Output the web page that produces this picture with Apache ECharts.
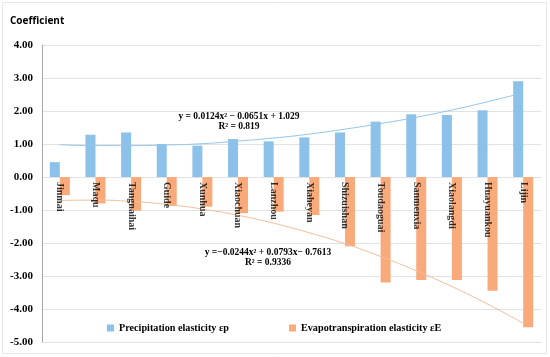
<!DOCTYPE html>
<html>
<head>
<meta charset="utf-8">
<script src="https://cdn.jsdelivr.net/npm/echarts@6/dist/echarts.min.js"></script>
<style>
html,body{margin:0;padding:0;background:#fff;}
#chart{width:550px;height:357px;}
</style>
</head>
<body>
<div id="chart"></div>
<script>
// Data
const categories = ["Jinmai","Maqu","Tangnaihai","Guide","Xunhua","Xiaochuan","Lanzhou","Xiaheyan","Shizuishan","Toudaoguai","Sanmenxia","Xiaolangdi","Huayuankou","Lijin"];
const precipitation = [0.45, 1.28, 1.35, 1.00, 0.95, 1.15, 1.08, 1.20, 1.35, 1.68, 1.90, 1.88, 2.02, 2.90];
const evapotranspiration = [-0.55, -0.80, -1.02, -0.88, -0.90, -1.10, -1.05, -1.15, -2.10, -3.20, -3.12, -3.12, -3.45, -4.55];
// Trend-line values
const precipTrend = [0.98, 0.95, 0.95, 0.97, 1.01, 1.09, 1.18, 1.30, 1.45, 1.62, 1.81, 2.03, 2.28, 2.55];
const evapTrend = [-0.71, -0.70, -0.74, -0.83, -0.97, -1.16, -1.40, -1.69, -2.02, -2.41, -2.84, -3.32, -3.85, -4.43];
const yTicks = {min: -5, max: 4, interval: 1};
const seriesNames = ["Precipitation elasticity εp", "Evapotranspiration elasticity εE"];
const eqPrecip = ["y = 0.0124x² − 0.0651x + 1.029", "R² = 0.819"];
const eqEvap = ["y =−0.0244x² + 0.0793x− 0.7613", "R² = 0.9336"];

const serif = "Liberation Serif";
const blue = "#8CC1E9";
const orange = "#F9AA7B";

const chart = echarts.init(document.getElementById('chart'), null, {renderer: 'canvas'});
chart.setOption({
  animation: false,
  backgroundColor: '#fff',
  grid: {left: 42, right: 9, top: 45, bottom: 15, containLabel: false, outerBoundsMode: 'none'},
  legend: {
    data: seriesNames,
    left: 102, top: 318,
    itemWidth: 7, itemHeight: 7, itemGap: 60,
    icon: 'rect',
    textStyle: {fontFamily: serif, fontWeight: 'bold', fontSize: 10.2, color: '#000'}
  },
  xAxis: {
    type: 'category',
    data: categories,
    axisLine: {show: false},
    axisTick: {show: false},
    axisLabel: {show: false}
  },
  yAxis: {
    type: 'value',
    min: yTicks.min, max: yTicks.max, interval: yTicks.interval,
    axisLine: {show: true, lineStyle: {color: '#A6A6A6', width: 1}},
    axisTick: {show: false},
    splitLine: {lineStyle: {color: '#E2E2E2'}},
    axisLabel: {formatter: v => v.toFixed(2), fontFamily: serif, fontWeight: 'bold', fontSize: 11, color: '#000', margin: 9}
  },
  series: [
    {name: seriesNames[0], type: 'bar', data: precipitation, barWidth: 10, barGap: '0%', itemStyle: {color: blue}},
    {name: seriesNames[1], type: 'bar', data: evapotranspiration, barWidth: 10, barGap: '0%', itemStyle: {color: orange}},
    {name: 'precipTrend', type: 'line', data: precipTrend, smooth: true, symbol: 'none', lineStyle: {color: '#94C5E8', width: 1}, z: 5},
    {name: 'evapTrend', type: 'line', data: evapTrend, smooth: true, symbol: 'none', lineStyle: {color: '#F3BE9C', width: 1}, z: 5},
    {
      name: 'catLabels', type: 'scatter', symbolSize: 0, z: 10, silent: true,
      data: categories.map((c, i) => [i, 0]),
      label: {
        show: true, position: 'bottom', distance: 5, rotate: -90,
        align: 'left', verticalAlign: 'middle',
        formatter: p => categories[p.dataIndex],
        fontFamily: serif, fontWeight: 'bold', fontSize: 10, color: '#000'
      }
    }
  ],
  graphic: [
    {type: 'rect', shape: {x: 2.5, y: 2.5, width: 544, height: 351}, style: {fill: 'none', stroke: '#E6E6E6', lineWidth: 1}, silent: true},
    {type: 'text', left: 10, top: 16, style: {text: 'Coefficient', font: "bold 10px 'Open Sans'", fill: '#000'}},
    {type: 'text', x: 239, y: 117, style: {text: eqPrecip[0], font: "bold 9.5px 'Liberation Serif'", fill: '#000', align: 'center', verticalAlign: 'middle'}},
    {type: 'text', x: 239, y: 127, style: {text: eqPrecip[1], font: "bold 9.5px 'Liberation Serif'", fill: '#000', align: 'center', verticalAlign: 'middle'}},
    {type: 'text', x: 268, y: 253, style: {text: eqEvap[0], font: "bold 9.5px 'Liberation Serif'", fill: '#000', align: 'center', verticalAlign: 'middle'}},
    {type: 'text', x: 268, y: 263, style: {text: eqEvap[1], font: "bold 9.5px 'Liberation Serif'", fill: '#000', align: 'center', verticalAlign: 'middle'}}
  ]
});
</script>
</body>
</html>
